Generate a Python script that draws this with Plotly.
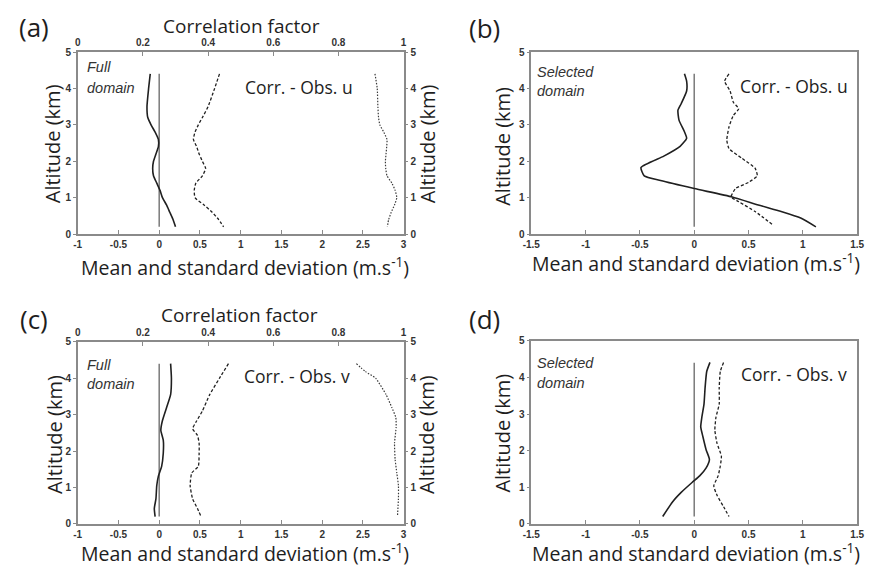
import plotly.graph_objects as go

W, H = 874, 570

# ---------------- data ----------------
# (a) full domain, u component
alt_a = [4.4, 4.0, 3.5, 3.2, 3.0, 2.8, 2.6, 2.4, 2.2, 2.0, 1.8, 1.6, 1.4, 1.2, 1.0, 0.8, 0.6, 0.4, 0.2]
mean_a = [-0.11, -0.13, -0.15, -0.14, -0.10, -0.05, -0.01, -0.01, -0.04, -0.07, -0.08, -0.07, -0.03,
          0.01, 0.04, 0.09, 0.13, 0.17, 0.20]
std_a = [0.74, 0.68, 0.60, 0.53, 0.48, 0.44, 0.42, 0.46, 0.49, 0.53, 0.57, 0.53, 0.45, 0.43, 0.44,
         0.55, 0.65, 0.73, 0.79]
corr_a = [0.912, 0.919, 0.921, 0.923, 0.927, 0.939, 0.949, 0.948, 0.946, 0.944, 0.945, 0.949, 0.964,
          0.974, 0.979, 0.972, 0.962, 0.954, 0.950]

# (b) selected domain, u component
alt_b_mean = [4.40, 4.20, 3.93, 3.58, 3.40, 3.13, 2.81, 2.63, 2.41, 2.14, 1.83, 1.60, 1.47, 1.25, 1.02,
              0.80, 0.62, 0.44, 0.20]
mean_b = [-0.09, -0.07, -0.07, -0.12, -0.15, -0.14, -0.09, -0.07, -0.13, -0.28, -0.49, -0.46, -0.31,
          0.0, 0.35, 0.59, 0.80, 0.98, 1.12]
alt_b_std = [4.40, 4.20, 3.93, 3.62, 3.44, 3.26, 2.94, 2.58, 2.35, 2.08, 1.81, 1.60, 1.42, 1.25, 1.02,
             0.89, 0.62, 0.24]
std_b = [0.32, 0.28, 0.33, 0.36, 0.41, 0.36, 0.32, 0.30, 0.32, 0.44, 0.56, 0.58, 0.50, 0.38, 0.34,
         0.41, 0.56, 0.73]

# (c) full domain, v component
alt_c_mean = [4.40, 4.0, 3.55, 3.19, 2.84, 2.57, 2.30, 1.94, 1.58, 1.31, 1.05, 0.69, 0.42, 0.2]
mean_c = [0.14, 0.15, 0.14, 0.09, 0.04, 0.02, 0.05, 0.05, 0.03, -0.01, -0.03, -0.04, -0.06, -0.05]
alt_c_std = [4.40, 4.0, 3.55, 3.10, 2.79, 2.61, 2.43, 2.21, 1.94, 1.58, 1.40, 1.05, 0.69, 0.42, 0.22]
std_c = [0.85, 0.74, 0.62, 0.53, 0.45, 0.41, 0.47, 0.49, 0.49, 0.48, 0.40, 0.38, 0.41, 0.47, 0.51]
alt_c_corr = [4.40, 4.18, 4.0, 3.55, 3.19, 2.92, 2.66, 2.21, 1.76, 1.40, 1.05, 0.69, 0.2]
corr_c = [0.855, 0.883, 0.914, 0.946, 0.964, 0.976, 0.977, 0.972, 0.974, 0.979, 0.984, 0.984, 0.981]

# (d) selected domain, v component
alt_d_mean = [4.41, 4.16, 3.72, 3.27, 2.91, 2.65, 2.38, 2.02, 1.76, 1.53, 1.31, 1.13, 0.86, 0.60, 0.20]
mean_d = [0.145, 0.115, 0.10, 0.09, 0.07, 0.06, 0.08, 0.11, 0.14, 0.11, 0.05, -0.02, -0.12, -0.20, -0.29]
alt_d_std = [4.41, 4.16, 3.72, 3.27, 2.91, 2.56, 2.20, 1.85, 1.58, 1.31, 1.04, 0.78, 0.47, 0.20]
std_d = [0.27, 0.24, 0.23, 0.23, 0.20, 0.19, 0.21, 0.25, 0.24, 0.22, 0.18, 0.21, 0.27, 0.32]

# zero reference line extent (km)
zero_alt = [0.2, 4.4]
zero_val = [0, 0]

# tick labels
full_ticks = [-1, -0.5, 0, 0.5, 1, 1.5, 2, 2.5, 3]
full_ticktext = ["-1", "-0.5", "0", "0.5", "1", "1.5", "2", "2.5", "3"]
sel_ticks = [-1.5, -1, -0.5, 0, 0.5, 1, 1.5]
sel_ticktext = ["-1.5", "-1", "-0.5", "0", "0.5", "1", "1.5"]
corr_ticks = [0, 0.2, 0.4, 0.6, 0.8, 1]
corr_ticktext = ["0", "0.2", "0.4", "0.6", "0.8", "1"]
alt_ticks = [0, 1, 2, 3, 4, 5]

# ---------------- styling ----------------
INK = "#202020"
AXC = "#8a8a8a"
TXT = "#1e1e1e"
TICKFONT = dict(family="Liberation Sans", size=10, color="#333333", weight="bold")
TITLEFONT = "Open Sans"


def px(x):
    return x / W


def py(y):
    return 1 - y / H


# plot-area boxes in pixels: (left, right, top, bottom)
boxes = {
    "a": (70, 402, 47, 233),
    "b": (532, 864, 47, 233),
    "c": (70, 402, 343, 529),
    "d": (532, 864, 342, 529),
}


def xdom(k):
    l, r, t, b = boxes[k]
    return [px(l), px(r)]


def ydom(k):
    l, r, t, b = boxes[k]
    return [py(b), py(t)]


fig = go.Figure()

solid = dict(color=INK, width=1.6, shape="spline", smoothing=0.5)
dashed = dict(color=INK, width=1.3, dash="3px,2px", shape="spline", smoothing=0.5)
dotted = dict(color="#3a3a3a", width=1.2, dash="1.5px,1.5px", shape="spline", smoothing=0.5)
zline = dict(color="#7a7a7a", width=1.5)


def add(x, y, line, xa, ya):
    fig.add_trace(go.Scatter(x=x, y=y, mode="lines", line=line, xaxis=xa, yaxis=ya,
                             showlegend=False, hoverinfo="skip"))


# (a)
add(zero_val, zero_alt, zline, "x", "y")
add(mean_a, alt_a, solid, "x", "y")
add(std_a, alt_a, dashed, "x", "y")
add(corr_a, alt_a, dotted, "x5", "y")
# (b)
add(zero_val, zero_alt, zline, "x2", "y2")
add(mean_b, alt_b_mean, solid, "x2", "y2")
add(std_b, alt_b_std, dashed, "x2", "y2")
# (c)
add(zero_val, zero_alt, zline, "x3", "y3")
add(mean_c, alt_c_mean, solid, "x3", "y3")
add(std_c, alt_c_std, dashed, "x3", "y3")
add(corr_c, alt_c_corr, dotted, "x6", "y3")
# (d)
add(zero_val, zero_alt, zline, "x4", "y4")
add(mean_d, alt_d_mean, solid, "x4", "y4")
add(std_d, alt_d_std, dashed, "x4", "y4")

common_x = dict(showline=True, linecolor=AXC, linewidth=1.5, mirror=True, showgrid=False,
                zeroline=False, ticks="inside", ticklen=4, tickcolor=AXC, tickwidth=1,
                tickfont=TICKFONT, tickmode="array")
common_y = dict(showline=True, linecolor=AXC, linewidth=1.5, mirror=True, showgrid=False,
                zeroline=False, ticks="outside", ticklen=3, tickcolor=AXC, tickwidth=1,
                tickfont=TICKFONT, tickmode="array", range=[0, 5], tickvals=alt_ticks,
                ticktext=[str(v) for v in alt_ticks])

layout = dict(
    width=W, height=H, margin=dict(l=0, r=0, t=0, b=0),
    paper_bgcolor="white", plot_bgcolor="white", showlegend=False,
    xaxis=dict(common_x, domain=xdom("a"), anchor="y", range=[-1, 3],
               tickvals=full_ticks, ticktext=full_ticktext),
    yaxis=dict(common_y, domain=ydom("a"), anchor="x"),
    xaxis2=dict(common_x, domain=xdom("b"), anchor="y2", range=[-1.5, 1.5],
                tickvals=sel_ticks, ticktext=sel_ticktext),
    yaxis2=dict(common_y, domain=ydom("b"), anchor="x2"),
    xaxis3=dict(common_x, domain=xdom("c"), anchor="y3", range=[-1, 3],
                tickvals=full_ticks, ticktext=full_ticktext),
    yaxis3=dict(common_y, domain=ydom("c"), anchor="x3"),
    xaxis4=dict(common_x, domain=xdom("d"), anchor="y4", range=[-1.5, 1.5],
                tickvals=sel_ticks, ticktext=sel_ticktext),
    yaxis4=dict(common_y, domain=ydom("d"), anchor="x4"),
    # correlation (top) axes
    xaxis5=dict(common_x, overlaying="x", side="top", anchor="y", range=[0, 1], mirror=False,
                tickvals=corr_ticks, ticktext=corr_ticktext),
    xaxis6=dict(common_x, overlaying="x3", side="top", anchor="y3", range=[0, 1], mirror=False,
                tickvals=corr_ticks, ticktext=corr_ticktext),
    # right altitude axes
    yaxis5=dict(common_y, overlaying="y", side="right", anchor="x", mirror=False),
    yaxis6=dict(common_y, overlaying="y3", side="right", anchor="x3", mirror=False),
)
fig.update_layout(**layout)

# right-hand axes need a trace to be drawn
add([None], [None], solid, "x", "y5")
add([None], [None], solid, "x3", "y6")

ann = []


def text(x, y, s, size, italic=False, angle=0, xanchor="center", color=TXT, family=TITLEFONT):
    ann.append(dict(x=px(x), y=py(y), xref="paper", yref="paper", text=s, showarrow=False,
                    xanchor=xanchor, yanchor="middle", textangle=angle,
                    font=dict(family=family, size=size, color=color,
                              style="italic" if italic else "normal")))


xlabel = "Mean and standard deviation (m.s<sup>-1</sup>)"
# panel letters
text(25, 21, "(a)", 26)
text(484, 22, "(b)", 26)
text(25, 320, "(c)", 26)
text(484, 320, "(d)", 26)
# x titles
text(240, 266, xlabel, 19.5)
text(700, 262, xlabel, 19.5)
text(240, 558, xlabel, 19.5)
text(700, 558, xlabel, 19.5)
# correlation titles
text(237, 20, "Correlation factor", 19)
text(235, 316, "Correlation factor", 19)
# altitude titles
text(44, 141, "Altitude (km)", 20, angle=-90)
text(426, 141, "Altitude (km)", 20, angle=-90)
text(503, 143, "Altitude (km)", 20, angle=-90)
text(47, 438, "Altitude (km)", 20, angle=-90)
text(426, 438, "Altitude (km)", 20, angle=-90)
text(503, 436, "Altitude (km)", 20, angle=-90)
# in-panel labels
text(295, 83, "Corr. - Obs. u", 17.5)
text(800, 82, "Corr. - Obs. u", 17.5)
text(293, 378, "Corr. - Obs. v", 17.5)
text(800, 376, "Corr. - Obs. v", 17.5)
ital = dict(italic=True, xanchor="left", family="Liberation Sans", color="#333333")
text(77, 62, "Full", 14.5, **ital)
text(77, 84, "domain", 14.5, **ital)
text(536, 67, "Selected", 14.5, **ital)
text(536, 87, "domain", 14.5, **ital)
text(77, 367, "Full", 14.5, **ital)
text(77, 386, "domain", 14.5, **ital)
text(536, 365, "Selected", 14.5, **ital)
text(536, 385, "domain", 14.5, **ital)

fig.update_layout(annotations=ann)
fig.write_html("out.html")
